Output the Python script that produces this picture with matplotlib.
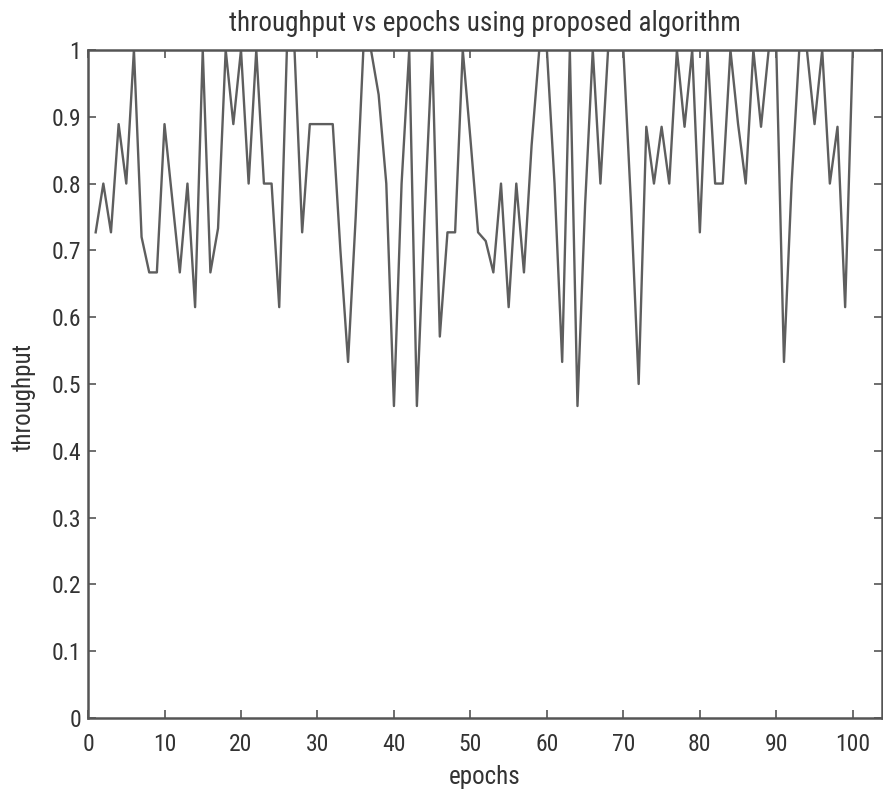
import matplotlib
matplotlib.use("Agg")
import matplotlib.pyplot as plt
from matplotlib import font_manager
import numpy as np

# throughput per epoch
epochs = np.arange(1, 101)
throughput = [
    0.727, 0.800, 0.727, 0.889, 0.800, 1.000, 0.720, 0.667, 0.667, 0.889,
    0.778, 0.667, 0.800, 0.615, 1.000, 0.667, 0.733, 1.000, 0.889, 1.000,
    0.800, 1.000, 0.800, 0.800, 0.615, 1.000, 1.000, 0.727, 0.889, 0.889,
    0.889, 0.889, 0.700, 0.533, 0.750, 1.000, 1.000, 0.933, 0.800, 0.467,
    0.800, 1.000, 0.467, 0.750, 1.000, 0.571, 0.727, 0.727, 1.000, 0.867,
    0.727, 0.714, 0.667, 0.800, 0.615, 0.800, 0.667, 0.857, 1.000, 1.000,
    0.800, 0.533, 1.000, 0.467, 0.769, 1.000, 0.800, 1.000, 1.000, 1.000,
    0.769, 0.500, 0.885, 0.800, 0.885, 0.800, 1.000, 0.885, 1.000, 0.727,
    1.000, 0.800, 0.800, 1.000, 0.889, 0.800, 1.000, 0.885, 1.000, 1.000,
    0.533, 0.800, 1.000, 1.000, 0.889, 1.000, 0.800, 0.885, 0.615, 1.000,
]
xticks = np.arange(0, 101, 10)
yticks = np.round(np.arange(0, 1.01, 0.1), 1)
yticklabels = ["0"] + [f"{v:.1f}" for v in yticks[1:-1]] + ["1"]

# the original text looks condensed; use a narrow face if one is installed
names = {f.name for f in font_manager.fontManager.ttflist}
family = "Liberation Sans"
for cand in ["Liberation Sans Narrow", "DejaVu Sans Condensed", "Roboto Condensed",
             "Open Sans Condensed"]:
    if cand in names:
        family = cand
        break
plt.rcParams["font.family"] = [family, "DejaVu Sans"]

fig = plt.figure(figsize=(8.83, 7.93), dpi=100)
ax = fig.add_axes([0.0997, 0.0946, 0.899, 0.8424])

ax.plot(epochs, throughput, color="#5e5e5e", linewidth=1.7)

ax.set_xlim(0, 103.8)
ax.set_ylim(0, 1)
ax.set_xticks(xticks)
ax.set_yticks(yticks)
ax.set_yticklabels(yticklabels)
ax.tick_params(direction="in", length=6, width=1.2, colors="#555555",
               labelcolor="#333333", labelsize=17, top=True, right=True)
ax.tick_params(axis="x", pad=11)
ax.tick_params(axis="y", pad=5)
for s in ax.spines.values():
    s.set_color("#555555")
    s.set_linewidth(1.8)

ax.set_title("throughput vs epochs using proposed algorithm", fontsize=19.5,
             color="#333333", pad=14)
ax.set_xlabel("epochs", fontsize=18, color="#333333", labelpad=6)
ax.set_ylabel("throughput", fontsize=18, color="#333333")
ax.yaxis.set_label_coords(-0.066, 0.48)

fig.savefig("out.png", dpi=100, facecolor="white")
